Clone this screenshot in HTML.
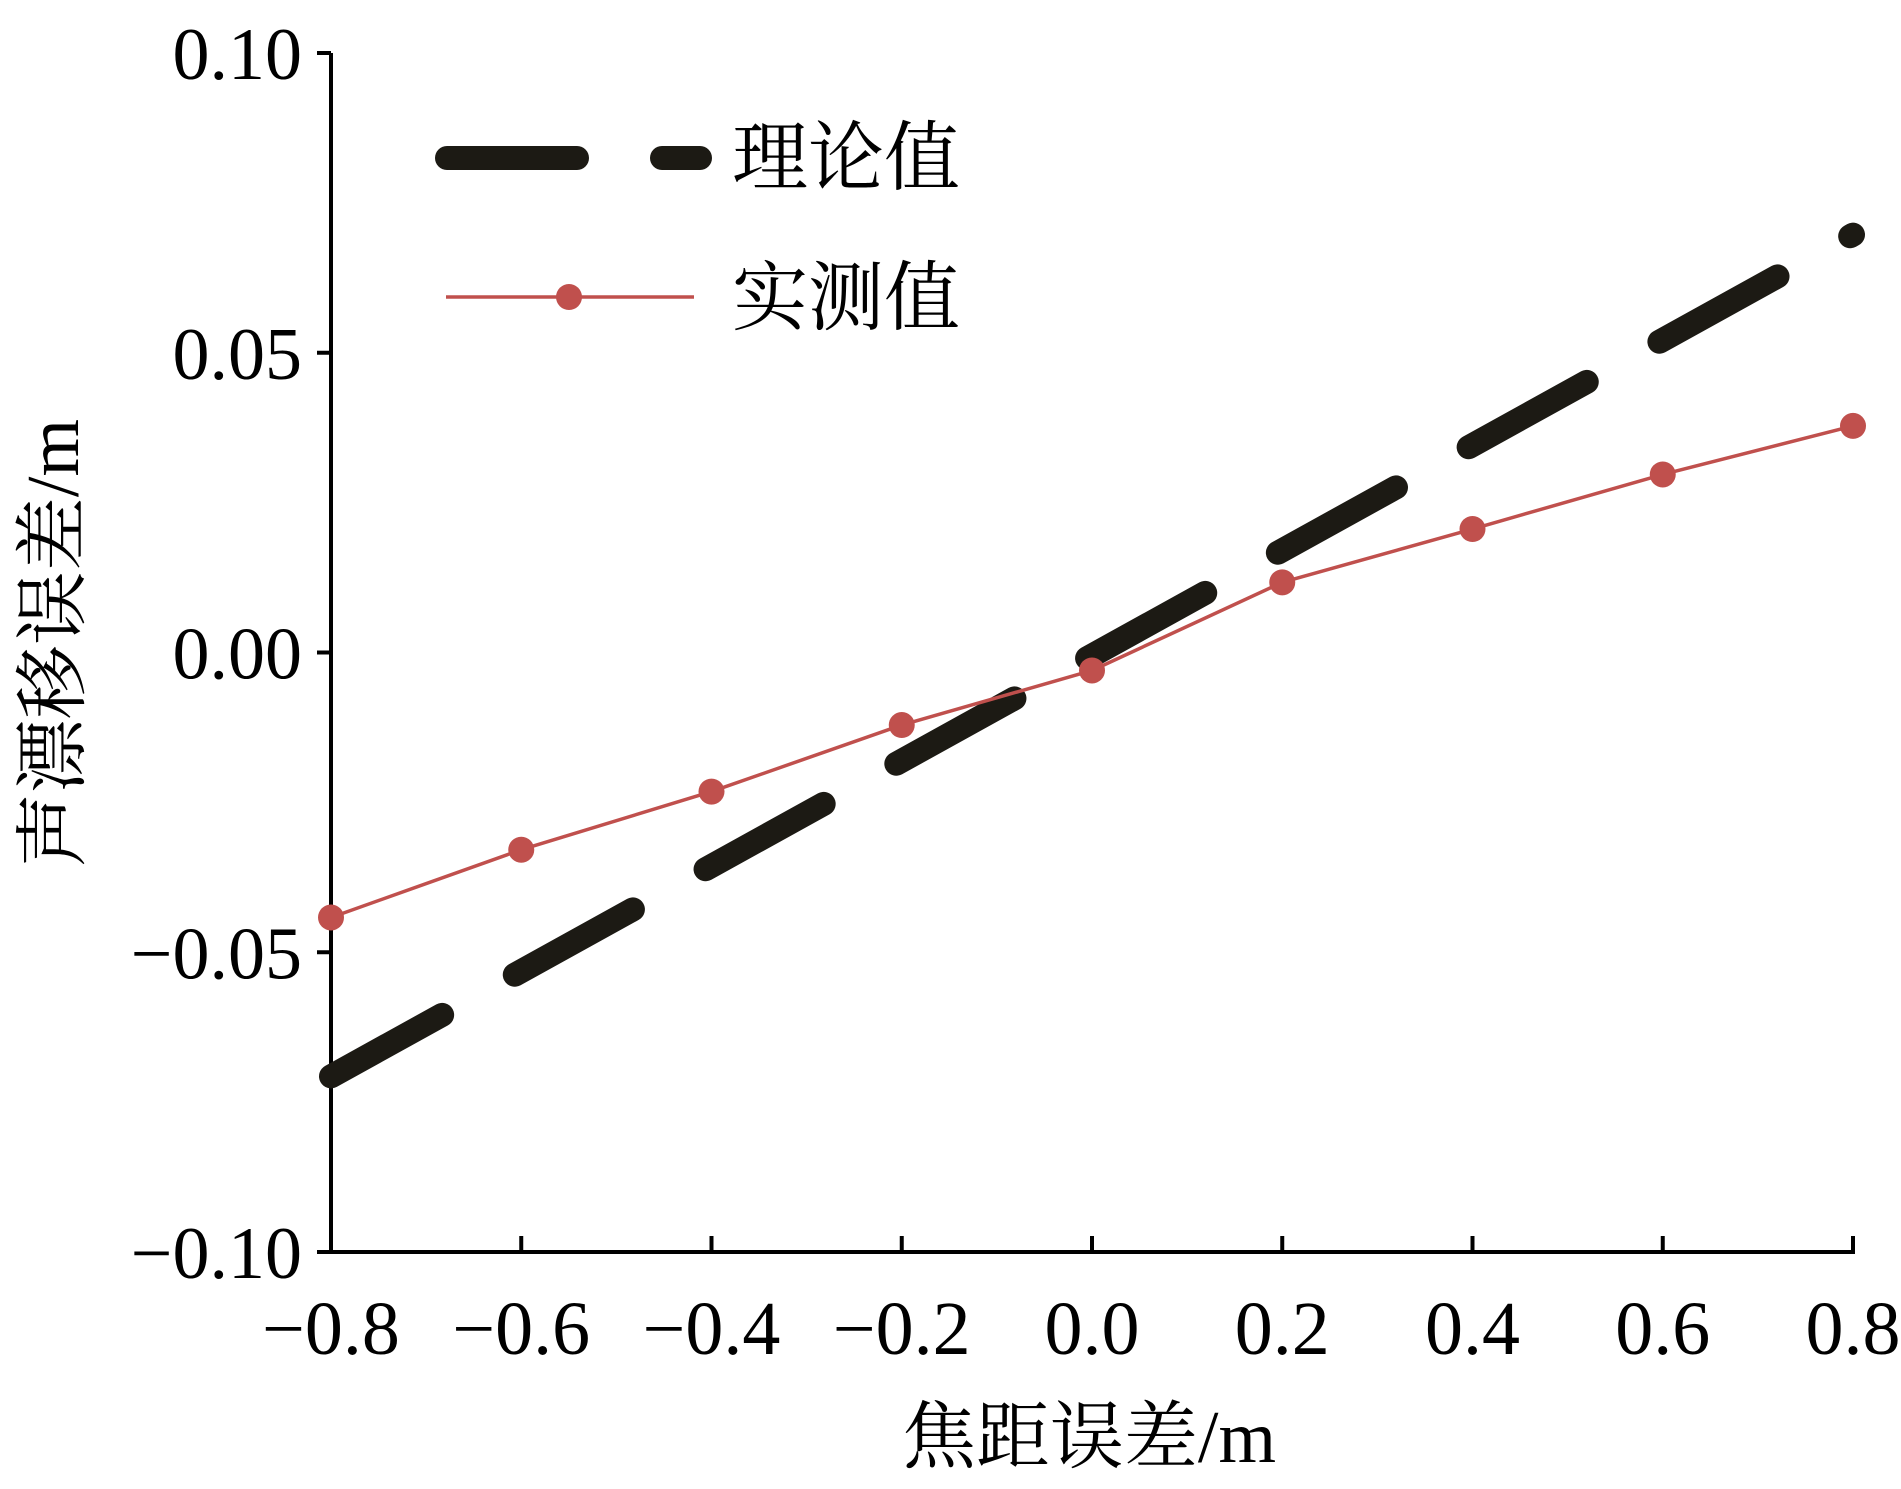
<!DOCTYPE html>
<html><head><meta charset="utf-8"><style>
html,body{margin:0;padding:0;background:#fff;}
svg text{font-family:"Liberation Serif","Noto Serif CJK SC",serif;fill:#000;}
</style></head><body>
<svg id="chart" width="1901" height="1484" viewBox="0 0 1901 1484">
<g id="axes"></g>
<g id="series"></g>
<g id="legend">
  <line x1="447" y1="158" x2="700" y2="158" stroke="#1c1a14" stroke-width="24" stroke-linecap="round" stroke-dasharray="130 85"/>
  <text x="732" y="184" font-size="76">理论值</text>
  <line x1="446" y1="297" x2="694" y2="297" stroke="#c0504d" stroke-width="3.5"/>
  <circle cx="569" cy="297" r="13" fill="#c0504d"/>
  <text x="732" y="324" font-size="76">实测值</text>
</g>
<text transform="translate(78,643) rotate(-90)" text-anchor="middle" font-size="74">声漂移误差/m</text>
<text x="1089" y="1462" text-anchor="middle" font-size="74">焦距误差/m</text>
</svg>
<script>
const xTicks=[-0.8,-0.6,-0.4,-0.2,0.0,0.2,0.4,0.6,0.8];
const xTickLabels=["\u22120.8","\u22120.6","\u22120.4","\u22120.2","0.0","0.2","0.4","0.6","0.8"];
const yTicks=[0.10,0.05,0.00,-0.05,-0.10];
const yTickLabels=["0.10","0.05","0.00","\u22120.05","\u22120.10"];
const measuredX=[-0.8,-0.6,-0.4,-0.2,0.0,0.2,0.4,0.6,0.8];
const measuredY=[-0.0442,-0.0329,-0.0232,-0.0121,-0.003,0.0117,0.0206,0.0297,0.0378];
const theoryX=[-0.8,0.8];
const theoryY=[-0.0707,0.0697];

const X0=331,X1=1853,Y0=1252,Y1=53;
function sx(v){return X0+(v+0.8)/1.6*(X1-X0);}
function sy(v){return Y0-(v+0.1)/0.2*(Y0-Y1);}
const NS="http://www.w3.org/2000/svg";
function mk(tag,attrs,parent){const e=document.createElementNS(NS,tag);for(const k in attrs)e.setAttribute(k,attrs[k]);parent.appendChild(e);return e;}
const axes=document.getElementById('axes');
const series=document.getElementById('series');

let e=mk('line',{x1:X0,y1:Y1,x2:X0,y2:Y0+2,stroke:'#000','stroke-width':4},axes);


e=mk('line',{x1:X0-2,y1:Y0,x2:X1+2,y2:Y0,stroke:'#000','stroke-width':4},axes);



xTicks.forEach((v,i)=>{
  const t=mk('line',{x1:sx(v),y1:Y0,x2:sx(v),y2:Y0-16,stroke:'#000','stroke-width':4},axes);
  
  
  const l=mk('text',{x:sx(v),y:1354,'text-anchor':'middle','font-size':76},axes);
  l.textContent=xTickLabels[i];
  
  
});
yTicks.forEach((v,i)=>{
  const t=mk('line',{x1:X0-14,y1:sy(v),x2:X0,y2:sy(v),stroke:'#000','stroke-width':4},axes);
  
  
  const l=mk('text',{x:302,y:sy(v)+26,'text-anchor':'end','font-size':74},axes);
  l.textContent=yTickLabels[i];
  
  
});

const th=mk('line',{x1:sx(theoryX[0]),y1:sy(theoryY[0]),x2:sx(theoryX[1]),y2:sy(theoryY[1]),stroke:'#1c1a14','stroke-width':24,'stroke-linecap':'round','stroke-dasharray':'135 83','stroke-dashoffset':8},series);



const pts=measuredX.map((v,i)=>sx(v)+','+sy(measuredY[i])).join(' ');
const ml=mk('polyline',{points:pts,fill:'none',stroke:'#c0504d','stroke-width':3.5,'stroke-linejoin':'round'},series);


measuredX.forEach((v,i)=>{
  const c=mk('circle',{cx:sx(v),cy:sy(measuredY[i]),r:13,fill:'#c0504d'},series);
  
  
});
</script>
</body></html>
